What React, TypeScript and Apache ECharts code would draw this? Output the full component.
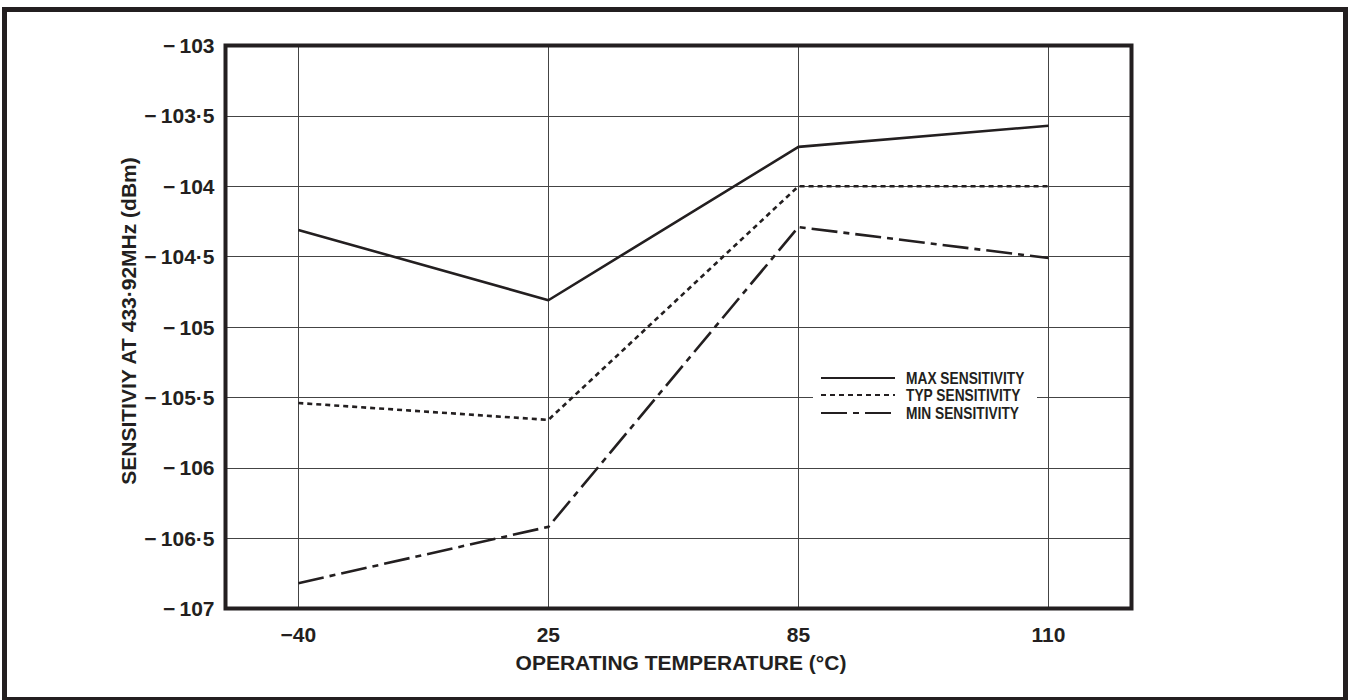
import React, { useEffect, useRef } from "react";
import * as echarts from "echarts";

const categories = ["\u221240", "25", "85", "110"];
const maxSensitivity = [-104.31, -104.81, -103.72, -103.57];
const typSensitivity = [-105.54, -105.66, -104.0, -104.0];
const minSensitivity = [-106.82, -106.42, -104.29, -104.51];
const legendNames = ["MAX SENSITIVITY", "TYP SENSITIVITY", "MIN SENSITIVITY"];
const yTitle = "SENSITIVIY AT 433\u00b792MHz (dBm)";
const xTitle = "OPERATING TEMPERATURE (\u00b0C)";

const INK = "#231f20";
const FONT = "'Liberation Sans', Arial, Helvetica, sans-serif";

const fmtY = (v: number) => {
  const s = Math.abs(v).toString().replace(".", "\u00b7");
  return (v < 0 ? "\u2212\u2009" : "") + s;
};

export default function App() {
  const ref = useRef<HTMLDivElement>(null);
  useEffect(() => {
    if (!ref.current) return;
    const chart = echarts.init(ref.current, undefined, { renderer: "svg" });
    const dashTyp = [5, 4];
    const dashMin = [26, 6, 6, 6];
    const legendY = [378, 395, 413];
    const dashes: any[] = [null, dashTyp, dashMin];
    const legendGraphics: any[] = [
      {
        type: "rect",
        shape: { x: 813, y: 368, width: 224, height: 55 },
        style: { fill: "#fff" },
        z: 10,
      },
    ];
    legendNames.forEach((n, i) => {
      legendGraphics.push({
        type: "line",
        shape: { x1: 821, y1: legendY[i], x2: 895, y2: legendY[i] },
        style: { stroke: INK, lineWidth: 2.2, lineDash: dashes[i] || undefined },
        z: 11,
      });
      legendGraphics.push({
        type: "text",
        x: 906,
        y: legendY[i],
        scaleX: 0.86,
        style: {
          text: n,
          fill: INK,
          font: `bold 16px ${FONT}`,
          textVerticalAlign: "middle",
          verticalAlign: "middle",
        },
        z: 11,
      });
    });
    const option: any = {
      animation: false,
      backgroundColor: "#fff",
      grid: [
        {
          left: 225.5,
          right: 1350 - 1131.5,
          top: 45.5,
          bottom: 700 - 608.5,
          show: true,
          borderColor: INK,
          borderWidth: 4,
          backgroundColor: "transparent",
          z: 5,
        },
        {
          left: 298.3,
          right: 1350 - 1048.5,
          top: 45.5,
          bottom: 700 - 608.5,
        },
      ],
      xAxis: [
        { type: "value", gridIndex: 0, show: false, min: 0, max: 1 },
        {
          type: "category",
          gridIndex: 1,
          data: categories,
          boundaryGap: false,
          axisLine: { show: false },
          axisTick: { show: false },
          splitLine: { show: true, lineStyle: { color: "#444", width: 1 } },
          axisLabel: {
            color: INK,
            fontFamily: FONT,
            fontWeight: "bold",
            fontSize: 21,
            margin: 15,
          },
        },
      ],
      yAxis: [
        {
          type: "value",
          gridIndex: 0,
          min: -107,
          max: -103,
          interval: 0.5,
          axisLine: { show: false },
          axisTick: { show: false },
          splitLine: { show: true, lineStyle: { color: "#444", width: 1 } },
          axisLabel: {
            color: INK,
            fontFamily: FONT,
            fontWeight: "bold",
            fontSize: 21,
            margin: 11,
            formatter: fmtY,
          },
        },
        {
          type: "value",
          gridIndex: 1,
          min: -107,
          max: -103,
          interval: 0.5,
          show: false,
          splitLine: { show: false },
        },
      ],
      series: [
        {
          name: legendNames[0],
          type: "line",
          xAxisIndex: 1,
          yAxisIndex: 1,
          data: maxSensitivity,
          symbol: "none",
          lineStyle: { color: INK, width: 2.6, type: "solid" },
          z: 3,
        },
        {
          name: legendNames[1],
          type: "line",
          xAxisIndex: 1,
          yAxisIndex: 1,
          data: typSensitivity,
          symbol: "none",
          lineStyle: { color: INK, width: 2.6, type: dashTyp },
          z: 3,
        },
        {
          name: legendNames[2],
          type: "line",
          xAxisIndex: 1,
          yAxisIndex: 1,
          data: minSensitivity,
          symbol: "none",
          lineStyle: { color: INK, width: 2.6, type: dashMin },
          z: 3,
        },
      ],
      graphic: [
        {
          type: "rect",
          shape: { x: 4.5, y: 9.5, width: 1341, height: 690 },
          style: { fill: "none", stroke: INK, lineWidth: 5 },
          z: 20,
        },
        {
          type: "text",
          x: 128,
          y: 321,
          rotation: Math.PI / 2,
          style: {
            text: yTitle,
            fill: INK,
            font: `bold 21px ${FONT}`,
            align: "center",
            verticalAlign: "middle",
            textAlign: "center",
            textVerticalAlign: "middle",
          },
        },
        {
          type: "text",
          x: 681,
          y: 662,
          style: {
            text: xTitle,
            fill: INK,
            font: `bold 21px ${FONT}`,
            align: "center",
            verticalAlign: "middle",
            textAlign: "center",
            textVerticalAlign: "middle",
          },
        },
        ...legendGraphics,
      ],
    };
    chart.setOption(option);
    return () => chart.dispose();
  }, []);
  return (
    <div
      ref={ref}
      style={{ position: "fixed", left: 0, top: 0, width: 1350, height: 700 }}
    />
  );
}
